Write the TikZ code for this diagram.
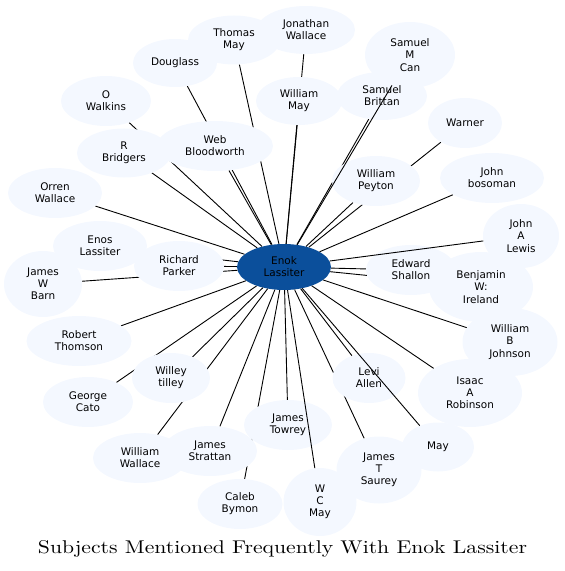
\documentclass[tikz,border=0pt]{standalone}
\usepackage{fontspec}
\usepackage{graphicx}
\setsansfont{DejaVu Sans}
\usetikzlibrary{shapes.geometric}
\definecolor{nodefill}{HTML}{F4F8FF}
\definecolor{hubfill}{RGB}{11,79,155}
\begin{document}
\begin{tikzpicture}[x=1bp,y=-1bp,
  nd/.style={ellipse, fill=nodefill, inner sep=0pt, align=center,
    font=\sffamily\fontsize{10.5}{12.2}\selectfont},
  hub/.style={nd, fill=hubfill},
  ln/.style={draw=black, line width=0.9bp}]
\useasboundingbox (0,0) rectangle (565,571);
% hub
\node[hub, minimum width=94bp, minimum height=46bp] (c) at (284,267) {Enok\\Lassiter};
% coordinates of satellites
\path
 (234,40) coordinate (p1) (306,30) coordinate (p2) (175,63) coordinate (p3)
 (410,55) coordinate (p4) (299,101) coordinate (p5) (382,96) coordinate (p6)
 (106,101) coordinate (p7) (465,123) coordinate (p8) (215,146) coordinate (p9)
 (124,153) coordinate (p10) (492,178) coordinate (p11) (376,181) coordinate (p12)
 (55,193) coordinate (p13) (521,236) coordinate (p14) (100,246) coordinate (p15)
 (179,266) coordinate (p16) (43,284) coordinate (p17) (411,270) coordinate (p18)
 (481,287) coordinate (p19) (510,342) coordinate (p20) (79,341) coordinate (p21)
 (171,378) coordinate (p22) (369,378) coordinate (p23) (470,393) coordinate (p24)
 (88,402) coordinate (p25) (288,425) coordinate (p26) (438,447) coordinate (p27)
 (140,458) coordinate (p28) (210,451) coordinate (p29) (379,470) coordinate (p30)
 (240,504) coordinate (p31) (320,502) coordinate (p32);
% invisible shape copies to clip edges
\begin{scope}
\node[nd, fill=none, minimum width=92bp, minimum height=49bp] (n1) at (p1) {};
\node[nd, fill=none, minimum width=98bp, minimum height=48bp] (n2) at (p2) {};
\node[nd, fill=none, minimum width=84bp, minimum height=48bp] (n3) at (p3) {};
\node[nd, fill=none, minimum width=90bp, minimum height=66bp] (n4) at (p4) {};
\node[nd, fill=none, minimum width=86bp, minimum height=48bp] (n5) at (p5) {};
\node[nd, fill=none, minimum width=90bp, minimum height=48bp] (n6) at (p6) {};
\node[nd, fill=none, minimum width=90bp, minimum height=50bp] (n7) at (p7) {};
\node[nd, fill=none, minimum width=74bp, minimum height=50bp] (n8) at (p8) {};
\node[nd, fill=none, minimum width=116bp, minimum height=50bp] (n9) at (p9) {};
\node[nd, fill=none, minimum width=94bp, minimum height=49bp] (n10) at (p10) {};
\node[nd, fill=none, minimum width=104bp, minimum height=50bp] (n11) at (p11) {};
\node[nd, fill=none, minimum width=88bp, minimum height=50bp] (n12) at (p12) {};
\node[nd, fill=none, minimum width=94bp, minimum height=50bp] (n13) at (p13) {};
\node[nd, fill=none, minimum width=76bp, minimum height=64bp] (n14) at (p14) {};
\node[nd, fill=none, minimum width=94bp, minimum height=50bp] (n15) at (p15) {};
\node[nd, fill=none, minimum width=90bp, minimum height=50bp] (n16) at (p16) {};
\node[nd, fill=none, minimum width=78bp, minimum height=66bp] (n17) at (p17) {};
\node[nd, fill=none, minimum width=90bp, minimum height=50bp] (n18) at (p18) {};
\node[nd, fill=none, minimum width=104bp, minimum height=70bp] (n19) at (p19) {};
\node[nd, fill=none, minimum width=95bp, minimum height=68bp] (n20) at (p20) {};
\node[nd, fill=none, minimum width=105bp, minimum height=50bp] (n21) at (p21) {};
\node[nd, fill=none, minimum width=78bp, minimum height=50bp] (n22) at (p22) {};
\node[nd, fill=none, minimum width=73bp, minimum height=50bp] (n23) at (p23) {};
\node[nd, fill=none, minimum width=104bp, minimum height=68bp] (n24) at (p24) {};
\node[nd, fill=none, minimum width=90bp, minimum height=50bp] (n25) at (p25) {};
\node[nd, fill=none, minimum width=88bp, minimum height=50bp] (n26) at (p26) {};
\node[nd, fill=none, minimum width=72bp, minimum height=49bp] (n27) at (p27) {};
\node[nd, fill=none, minimum width=94bp, minimum height=50bp] (n28) at (p28) {};
\node[nd, fill=none, minimum width=94bp, minimum height=50bp] (n29) at (p29) {};
\node[nd, fill=none, minimum width=85bp, minimum height=67bp] (n30) at (p30) {};
\node[nd, fill=none, minimum width=85bp, minimum height=50bp] (n31) at (p31) {};
\node[nd, fill=none, minimum width=73bp, minimum height=68bp] (n32) at (p32) {};
\end{scope}
\foreach \i in {1,2,3,5,6,7,8,9,10,11,12,13,15,16,17,18,19,20,21,22,23,24,25,26,28,29,30,31}
  \draw[ln] (c) -- (n\i);
% visible satellite nodes
\node[nd, minimum width=92bp, minimum height=49bp] at (p1) {Thomas\\May};
\node[nd, minimum width=98bp, minimum height=48bp] at (p2) {Jonathan\\Wallace};
\node[nd, minimum width=84bp, minimum height=48bp] at (p3) {Douglass};
\node[nd, minimum width=90bp, minimum height=66bp] at (p4) {Samuel\\M\\Can};
\node[nd, minimum width=86bp, minimum height=48bp] at (p5) {William\\May};
\node[nd, minimum width=90bp, minimum height=48bp] at (p6) {Samuel\\Brittan};
\node[nd, minimum width=90bp, minimum height=50bp] at (p7) {O\\Walkins};
\node[nd, minimum width=74bp, minimum height=50bp] at (p8) {Warner};
\node[nd, minimum width=94bp, minimum height=49bp] at (p10) {R\\Bridgers};
\node[nd, minimum width=116bp, minimum height=50bp] at (p9) {Web\\Bloodworth};
\node[nd, minimum width=104bp, minimum height=50bp] at (p11) {John\\bosoman};
\node[nd, minimum width=88bp, minimum height=50bp] at (p12) {William\\Peyton};
\node[nd, minimum width=94bp, minimum height=50bp] at (p13) {Orren\\Wallace};
\node[nd, minimum width=76bp, minimum height=64bp] at (p14) {John\\A\\Lewis};
\node[nd, minimum width=94bp, minimum height=50bp] at (p15) {Enos\\Lassiter};
\node[nd, minimum width=90bp, minimum height=50bp] at (p16) {Richard\\Parker};
\node[nd, minimum width=78bp, minimum height=66bp] at (p17) {James\\W\\Barn};
\node[nd, minimum width=104bp, minimum height=70bp] at (p19) {Benjamin\\W:\\Ireland};
\node[nd, minimum width=90bp, minimum height=50bp] at (p18) {Edward\\Shallon};
\node[nd, minimum width=95bp, minimum height=68bp] at (p20) {William\\B\\Johnson};
\node[nd, minimum width=105bp, minimum height=50bp] at (p21) {Robert\\Thomson};
\node[nd, minimum width=78bp, minimum height=50bp] at (p22) {Willey\\tilley};
\node[nd, minimum width=73bp, minimum height=50bp] at (p23) {Levi\\Allen};
\node[nd, minimum width=104bp, minimum height=68bp] at (p24) {Isaac\\A\\Robinson};
\node[nd, minimum width=90bp, minimum height=50bp] at (p25) {George\\Cato};
\node[nd, minimum width=88bp, minimum height=50bp] at (p26) {James\\Towrey};
\node[nd, minimum width=72bp, minimum height=49bp] at (p27) {May};
\node[nd, minimum width=94bp, minimum height=50bp] at (p28) {William\\Wallace};
\node[nd, minimum width=94bp, minimum height=50bp] at (p29) {James\\Strattan};
\node[nd, minimum width=85bp, minimum height=67bp] at (p30) {James\\T\\Saurey};
\node[nd, minimum width=85bp, minimum height=50bp] at (p31) {Caleb\\Bymon};
\node[nd, minimum width=73bp, minimum height=68bp] at (p32) {W\\C\\May};
% edges drawn over other nodes
\draw[ln] (c) -- (n4);
\draw[ln] (c) -- (n14);
\draw[ln] (c) -- (n27);
\draw[ln] (c) -- (n32);
% title
\node[anchor=base, inner sep=0pt] (title) at (282.5,553)
  {\resizebox{489bp}{13bp}{Subjects Mentioned Frequently With Enok Lassiter}};
\end{tikzpicture}
\end{document}
